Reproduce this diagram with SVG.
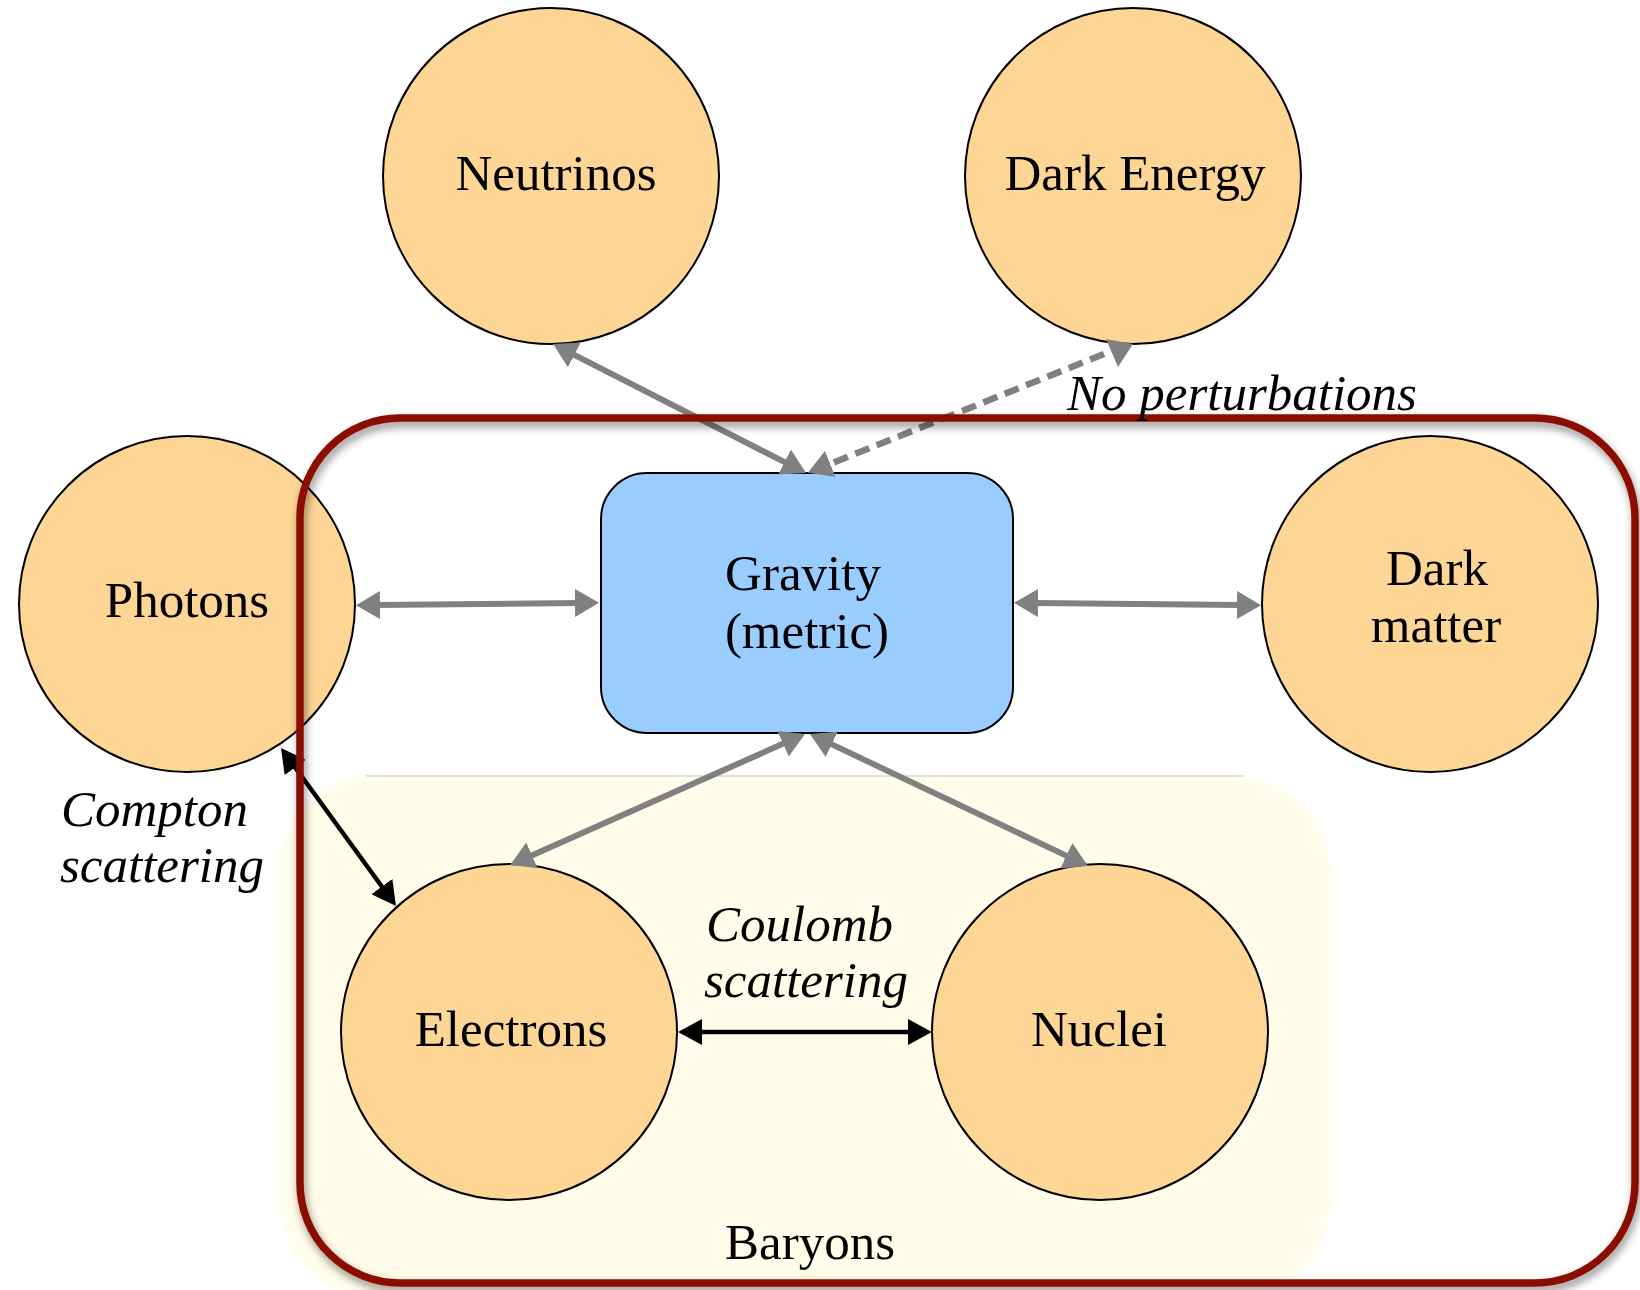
<svg xmlns="http://www.w3.org/2000/svg" width="1640" height="1290" viewBox="0 0 1640 1290">
  <style>
    .node { fill: #FDD595; stroke: #000; stroke-width: 2; }
    .box { fill: #99CCFF; stroke: #000; stroke-width: 2; }
    .lbl { font-family: "Liberation Serif", "Times New Roman", serif; font-size: 51px; fill: #000; }
    .mid { text-anchor: middle; }
    .it { font-style: italic; }
    .gray { stroke: #808080; stroke-width: 6; fill: none; }
    .black { stroke: #000; stroke-width: 4.5; fill: none; }
    .dash { stroke-dasharray: 15 8; stroke-width: 6.5; }
  </style>
  <defs>
    <marker id="hg" viewBox="0 0 24 28" refX="4" refY="14" markerWidth="24" markerHeight="28" markerUnits="userSpaceOnUse" orient="auto-start-reverse">
      <path d="M0,0 L24,14 L0,28 z" fill="#808080"/>
    </marker>
    <marker id="hb" viewBox="0 0 24 26" refX="4" refY="13" markerWidth="24" markerHeight="26" markerUnits="userSpaceOnUse" orient="auto-start-reverse">
      <path d="M0,0 L24,13 L0,26 z" fill="#000"/>
    </marker>
    <filter id="shadow" x="-5%" y="-5%" width="110%" height="115%">
      <feDropShadow dx="2" dy="5" stdDeviation="4" flood-color="#000" flood-opacity="0.45"/>
    </filter>
    <filter id="soft" x="-5%" y="-5%" width="110%" height="110%">
      <feGaussianBlur stdDeviation="3"/>
    </filter>
  </defs>

  <rect width="1640" height="1290" fill="#fff"/>

  <g id="baryons">
    <rect x="280" y="776" width="1050" height="520" rx="95" fill="#FFFDE9" filter="url(#soft)"/>
    <line x1="366" y1="776" x2="1245" y2="776" stroke="#d8d8cc" stroke-width="1.5"/>
    <text class="lbl mid" x="810" y="1259">Baryons</text>
  </g>

  <g id="neutrinos">
    <circle class="node" cx="551" cy="176" r="168"/>
    <text class="lbl mid" x="556" y="190">Neutrinos</text>
  </g>
  <g id="dark-energy">
    <circle class="node" cx="1133" cy="176" r="168"/>
    <text class="lbl mid" x="1135" y="190">Dark Energy</text>
  </g>
  <g id="photons">
    <circle class="node" cx="187" cy="604" r="168"/>
    <text class="lbl mid" x="187" y="617">Photons</text>
  </g>
  <g id="gravity">
    <rect class="box" x="601" y="473" width="412" height="260" rx="46"/>
    <text class="lbl mid" x="803" y="590">Gravity</text>
    <text class="lbl mid" x="807" y="648">(metric)</text>
  </g>
  <g id="dark-matter">
    <circle class="node" cx="1430" cy="604" r="168"/>
    <text class="lbl mid" x="1437" y="585">Dark</text>
    <text class="lbl mid" x="1436" y="642">matter</text>
  </g>
  <g id="electrons">
    <circle class="node" cx="509" cy="1032" r="168"/>
    <text class="lbl mid" x="511" y="1046">Electrons</text>
  </g>
  <g id="nuclei">
    <circle class="node" cx="1100" cy="1032" r="168"/>
    <text class="lbl mid" x="1099" y="1046">Nuclei</text>
  </g>

  <g id="connectors">
    <line class="gray" x1="570.8" y1="353.1" x2="788.2" y2="463.9" marker-start="url(#hg)" marker-end="url(#hg)"/>
    <line class="gray dash" x1="1104" y1="354" x2="826.5" y2="465.4" marker-end="url(#hg)"/>
    <polygon points="1106,339 1133,344 1118,367" fill="#808080"/>
    <line class="gray" x1="376" y1="605" x2="579" y2="603" marker-start="url(#hg)" marker-end="url(#hg)"/>
    <line class="gray" x1="1034" y1="603" x2="1241" y2="605" marker-start="url(#hg)" marker-end="url(#hg)"/>
    <line class="gray" x1="786.7" y1="742.1" x2="528.3" y2="856.9" marker-start="url(#hg)" marker-end="url(#hg)"/>
    <line class="gray" x1="828.1" y1="742.6" x2="1069.9" y2="857.4" marker-start="url(#hg)" marker-end="url(#hg)"/>
    <line class="black" x1="292.8" y1="764.2" x2="384.2" y2="889.8" marker-start="url(#hb)" marker-end="url(#hb)"/>
    <line class="black" x1="698" y1="1032" x2="912" y2="1032" marker-start="url(#hb)" marker-end="url(#hb)"/>
  </g>

  <g id="frame">
    <rect x="300" y="418" width="1335" height="865" rx="100" fill="none" stroke="#8B1000" stroke-width="7.5" filter="url(#shadow)"/>
  </g>

  <g id="labels">
    <text class="lbl it" x="1067" y="410">No perturbations</text>
    <text class="lbl it" x="61" y="826">Compton</text>
    <text class="lbl it" x="60" y="882">scattering</text>
    <text class="lbl it" x="706" y="941">Coulomb</text>
    <text class="lbl it" x="704" y="997">scattering</text>
  </g>
</svg>
